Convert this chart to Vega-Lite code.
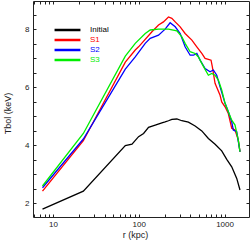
{
  "$schema": "https://vega.github.io/schema/vega-lite/v6.json",
  "width": 216,
  "height": 216,
  "autosize": {"type": "none"},
  "padding": {"left": 33, "top": 1, "right": 1, "bottom": 28},
  "config": {
    "view": {"stroke": "#222222", "strokeWidth": 1},
    "font": "Liberation Sans",
    "axis": {
      "domain": false,
      "grid": false,
      "ticks": true,
      "tickSize": -3,
      "tickColor": "#222222",
      "labelFontSize": 8,
      "labelColor": "#222222",
      "titleFontSize": 9,
      "titleFontWeight": "normal",
      "titleColor": "#222222",
      "labelOverlap": false,
      "labelFlush": false
    }
  },
  "data": {
    "values": [
      {"series": "Initial", "r": 7.55, "T": 1.79},
      {"series": "Initial", "r": 22.6, "T": 2.41},
      {"series": "Initial", "r": 69.7, "T": 3.98},
      {"series": "Initial", "r": 83.4, "T": 4.03},
      {"series": "Initial", "r": 99.5, "T": 4.29},
      {"series": "Initial", "r": 113.8, "T": 4.40},
      {"series": "Initial", "r": 130, "T": 4.61},
      {"series": "Initial", "r": 155.6, "T": 4.69},
      {"series": "Initial", "r": 186, "T": 4.77},
      {"series": "Initial", "r": 203, "T": 4.80},
      {"series": "Initial", "r": 222, "T": 4.84},
      {"series": "Initial", "r": 243, "T": 4.89},
      {"series": "Initial", "r": 278, "T": 4.90},
      {"series": "Initial", "r": 318, "T": 4.84},
      {"series": "Initial", "r": 379, "T": 4.79},
      {"series": "Initial", "r": 454, "T": 4.66},
      {"series": "Initial", "r": 543, "T": 4.49},
      {"series": "Initial", "r": 648, "T": 4.23},
      {"series": "Initial", "r": 776, "T": 4.03},
      {"series": "Initial", "r": 927, "T": 3.80},
      {"series": "Initial", "r": 1061, "T": 3.51},
      {"series": "Initial", "r": 1213, "T": 3.25},
      {"series": "Initial", "r": 1387, "T": 2.85},
      {"series": "Initial", "r": 1514, "T": 2.45},

      {"series": "S1", "r": 7.55, "T": 2.41},
      {"series": "S1", "r": 22.6, "T": 4.15},
      {"series": "S1", "r": 69.7, "T": 6.86},
      {"series": "S1", "r": 91, "T": 7.28},
      {"series": "S1", "r": 99.5, "T": 7.39},
      {"series": "S1", "r": 142.4, "T": 7.91},
      {"series": "S1", "r": 170, "T": 8.14},
      {"series": "S1", "r": 194, "T": 8.25},
      {"series": "S1", "r": 222, "T": 8.42},
      {"series": "S1", "r": 243, "T": 8.37},
      {"series": "S1", "r": 266, "T": 8.25},
      {"series": "S1", "r": 304, "T": 8.08},
      {"series": "S1", "r": 347, "T": 7.85},
      {"series": "S1", "r": 416, "T": 7.62},
      {"series": "S1", "r": 475, "T": 7.39},
      {"series": "S1", "r": 543, "T": 7.16},
      {"series": "S1", "r": 593, "T": 6.99},
      {"series": "S1", "r": 648, "T": 6.96},
      {"series": "S1", "r": 696, "T": 6.93},
      {"series": "S1", "r": 721, "T": 6.70},
      {"series": "S1", "r": 775, "T": 6.13},
      {"series": "S1", "r": 887, "T": 5.72},
      {"series": "S1", "r": 927, "T": 5.49},
      {"series": "S1", "r": 1014, "T": 5.32},
      {"series": "S1", "r": 1107, "T": 5.09},
      {"series": "S1", "r": 1213, "T": 4.58},
      {"series": "S1", "r": 1325, "T": 4.52},
      {"series": "S1", "r": 1447, "T": 4.17},
      {"series": "S1", "r": 1514, "T": 3.77},

      {"series": "S2", "r": 7.55, "T": 2.53},
      {"series": "S2", "r": 22.6, "T": 4.21},
      {"series": "S2", "r": 69.7, "T": 6.62},
      {"series": "S2", "r": 91, "T": 7.04},
      {"series": "S2", "r": 119, "T": 7.51},
      {"series": "S2", "r": 136, "T": 7.68},
      {"series": "S2", "r": 170, "T": 7.79},
      {"series": "S2", "r": 203, "T": 8.0},
      {"series": "S2", "r": 232, "T": 8.22},
      {"series": "S2", "r": 266, "T": 8.08},
      {"series": "S2", "r": 304, "T": 7.85},
      {"series": "S2", "r": 347, "T": 7.39},
      {"series": "S2", "r": 397, "T": 7.10},
      {"series": "S2", "r": 434, "T": 7.10},
      {"series": "S2", "r": 475, "T": 7.16},
      {"series": "S2", "r": 519, "T": 6.93},
      {"series": "S2", "r": 593, "T": 6.64},
      {"series": "S2", "r": 678, "T": 6.53},
      {"series": "S2", "r": 741, "T": 6.59},
      {"series": "S2", "r": 811, "T": 6.41},
      {"series": "S2", "r": 887, "T": 6.01},
      {"series": "S2", "r": 1014, "T": 5.44},
      {"series": "S2", "r": 1107, "T": 5.15},
      {"series": "S2", "r": 1213, "T": 4.80},
      {"series": "S2", "r": 1266, "T": 4.52},
      {"series": "S2", "r": 1387, "T": 4.46},
      {"series": "S2", "r": 1514, "T": 3.77},

      {"series": "S3", "r": 7.55, "T": 2.59},
      {"series": "S3", "r": 22.6, "T": 4.40},
      {"series": "S3", "r": 69.7, "T": 7.07},
      {"series": "S3", "r": 91, "T": 7.51},
      {"series": "S3", "r": 119, "T": 7.85},
      {"series": "S3", "r": 136, "T": 7.97},
      {"series": "S3", "r": 170, "T": 8.0},
      {"series": "S3", "r": 222, "T": 8.0},
      {"series": "S3", "r": 278, "T": 7.94},
      {"series": "S3", "r": 318, "T": 7.73},
      {"series": "S3", "r": 347, "T": 7.51},
      {"series": "S3", "r": 397, "T": 7.22},
      {"series": "S3", "r": 454, "T": 7.16},
      {"series": "S3", "r": 496, "T": 7.04},
      {"series": "S3", "r": 543, "T": 6.82},
      {"series": "S3", "r": 593, "T": 6.61},
      {"series": "S3", "r": 648, "T": 6.41},
      {"series": "S3", "r": 709, "T": 6.47},
      {"series": "S3", "r": 775, "T": 6.41},
      {"series": "S3", "r": 847, "T": 6.24},
      {"series": "S3", "r": 927, "T": 5.90},
      {"series": "S3", "r": 1014, "T": 5.44},
      {"series": "S3", "r": 1107, "T": 5.15},
      {"series": "S3", "r": 1213, "T": 4.86},
      {"series": "S3", "r": 1325, "T": 4.69},
      {"series": "S3", "r": 1447, "T": 4.17},
      {"series": "S3", "r": 1514, "T": 3.77}
    ]
  },
  "layer": [
    {
      "mark": {"type": "line", "strokeWidth": 1.3},
      "encoding": {
        "x": {
          "field": "r",
          "type": "quantitative",
          "scale": {"type": "log", "domain": [5.85, 1928], "nice": false},
          "axis": {
            "orient": "bottom",
            "title": "r (kpc)",
            "titleX": 102,
            "titlePadding": 2,
            "labelPadding": 6,
            "values": [6, 7, 8, 9, 10, 20, 30, 40, 50, 60, 70, 80, 90, 100, 200, 300, 400, 500, 600, 700, 800, 900, 1000],
            "labelExpr": "(datum.value == 10 || datum.value == 100 || datum.value == 1000) ? format(datum.value, 'd') : ''"
          }
        },
        "y": {
          "field": "T",
          "type": "quantitative",
          "scale": {"domain": [1.52, 8.97], "nice": false, "zero": false},
          "axis": {
            "orient": "left",
            "title": "Tbol (keV)",
            "titleY": 112,
            "titlePadding": 12,
            "labelPadding": 7,
            "values": [2, 2.5, 3, 3.5, 4, 4.5, 5, 5.5, 6, 6.5, 7, 7.5, 8, 8.5],
            "labelExpr": "datum.value % 2 == 0 ? format(datum.value, 'd') : ''"
          }
        },
        "color": {
          "field": "series",
          "type": "nominal",
          "scale": {
            "domain": ["Initial", "S1", "S2", "S3"],
            "range": ["#000000", "#ff0000", "#0000ff", "#00ee00"]
          },
          "legend": {
            "orient": "none",
            "legendX": 29.5,
            "legendY": 24,
            "title": null,
            "padding": 0,
            "symbolType": "M-3.7,0H3.7",
            "symbolSize": 49,
            "symbolStrokeWidth": 2.5,
            "labelFontSize": 8,
            "labelOffset": 17.5,
            "rowPadding": -1,
            "labelLimit": 60,
            "encode": {
              "labels": {"update": {"fill": {"scale": "color", "field": "value"}}}
            }
          }
        }
      }
    },
    {
      "mark": {"type": "line", "opacity": 0},
      "encoding": {
        "x": {
          "field": "r",
          "type": "quantitative",
          "scale": {"type": "log", "domain": [5.85, 1928], "nice": false},
          "axis": {
            "orient": "top",
            "title": null,
            "labels": false,
            "values": [6, 7, 8, 9, 10, 20, 30, 40, 50, 60, 70, 80, 90, 100, 200, 300, 400, 500, 600, 700, 800, 900, 1000]
          }
        },
        "y": {
          "field": "T",
          "type": "quantitative",
          "scale": {"domain": [1.52, 8.97], "nice": false, "zero": false},
          "axis": {
            "orient": "right",
            "title": null,
            "labels": false,
            "values": [2, 2.5, 3, 3.5, 4, 4.5, 5, 5.5, 6, 6.5, 7, 7.5, 8, 8.5]
          }
        },
        "detail": {"field": "series"}
      }
    }
  ]
}
